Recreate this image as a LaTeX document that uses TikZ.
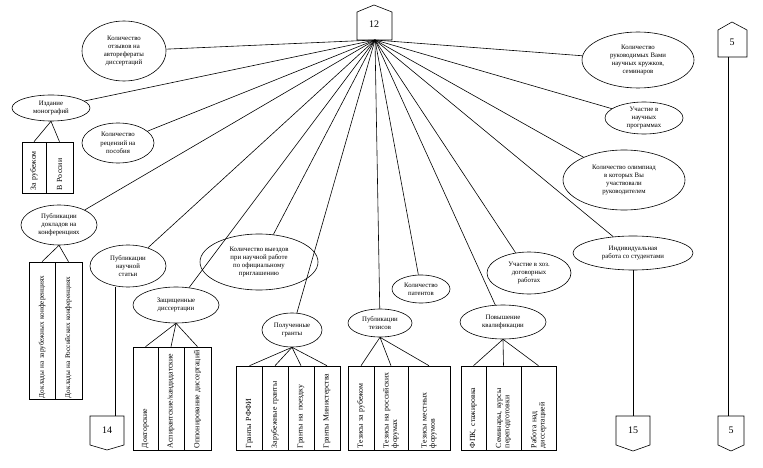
\documentclass[tikz,border=0pt]{standalone}
\usepackage{fontspec}
\setmainfont{Liberation Serif}
\usetikzlibrary{shapes.geometric}

\begin{document}
\begin{tikzpicture}%
  [x=1pt,y=-1pt,line width=0.6pt]
  \tikzstyle{ell node}=[ellipse,draw,inner sep=0,align=center,font=\fontsize{6.8}{8.2}\selectfont]
  \tikzstyle{cell node}=[rectangle,draw,rotate=90,inner sep=1,align=left,font=\fontsize{7.8}{8.4}\selectfont]
  \tikzstyle{num node}=[font=\fontsize{10}{12}\selectfont]
  \useasboundingbox (0,0) rectangle (763,468);
  % pentagons
  \draw (357,12) -- (374,5) -- (392,12) -- (392,40) -- (357,40) -- cycle;
  \node(p12)[num node] at (374,24){12};
  \coordinate (hub) at (375,40);
  \draw (718,30) -- (732,22) -- (747,30) -- (747,57) -- (718,57) -- cycle;
  \node(p5a)[num node] at (732,42){5};
  \draw (718,416) -- (744,416) -- (744,445) -- (731,451) -- (718,445) -- cycle;
  \node(p5b)[num node] at (731,430){5};
  \draw (616,416) -- (650,416) -- (650,445) -- (633,451) -- (616,445) -- cycle;
  \node(p15)[num node] at (633,430){15};
  \draw (90,416) -- (124,416) -- (124,445) -- (107,450) -- (90,445) -- cycle;
  \node(p14)[num node] at (107,430){14};
  % ellipses
  \node(otzyv)[ell node,minimum width=84,minimum height=60] at (124,51)
    {Количество\\отзывов на\\авторефераты\\диссертаций};
  \node(monogr)[ell node,minimum width=78,minimum height=26] at (51,108)
    {Издание\\монографий};
  \node(recenz)[ell node,minimum width=72,minimum height=40] at (118,143)
    {Количество\\рецензий на\\пособия};
  \node(doklad)[ell node,minimum width=76,minimum height=40] at (59,225)
    {Публикации\\докладов на\\конференциях};
  \node(statia)[ell node,minimum width=76,minimum height=42] at (128,266)
    {Публикации\\научной\\статьи};
  \node(disser)[ell node,minimum width=86,minimum height=36] at (176,305)
    {Защищенные\\диссертации};
  \node(vyezd)[ell node,minimum width=118,minimum height=56] at (259,262)
    {Количество выездов\\при научной работе\\по официальному\\приглашению};
  \node(grant)[ell node,minimum width=60,minimum height=34] at (292,330)
    {Полученные\\гранты};
  \node(patent)[ell node,minimum width=58,minimum height=28] at (421,289)
    {Количество\\патентов};
  \node(tezis)[ell node,minimum width=64,minimum height=28] at (380,323)
    {Публикации\\тезисов};
  \node(hozdog)[ell node,minimum width=84,minimum height=42] at (529,273)
    {Участие в хоз.\\договорных\\работах};
  \node(kvalif)[ell node,minimum width=86,minimum height=34] at (503,322)
    {Повышение\\квалификации};
  \node(student)[ell node,minimum width=120,minimum height=34] at (633,253)
    {Индивидуальная\\работа со студентами};
  \node(olimp)[ell node,minimum width=122,minimum height=60] at (624,180)
    {Количество олимпиад\\в которых Вы\\участвовали\\руководителем};
  \node(program)[ell node,minimum width=78,minimum height=32] at (644,118)
    {Участие в\\научных\\программах};
  \node(kruzhok)[ell node,minimum width=112,minimum height=56] at (638,60)
    {Количество\\руководимых Вами\\научных кружков,\\семинаров};
  % hub lines
  \foreach \e in {otzyv,monogr,recenz,doklad,statia,disser,vyezd,grant,
    patent,tezis,hozdog,kvalif,student,olimp,program,kruzhok}
    \draw (hub) -- (\e);
  % boxes
  \foreach \x/\w/\t [count=\i] in {34/24/{За рубежом},59.5/27/{В России}}{
    \node(mon\i)[cell node,minimum width=51,minimum height=\w,text width=45] at (\x,167.5){\t};
    \draw (monogr.south) -- (mon\i.east);}
  \foreach \x/\w/\t [count=\i] in {42/26/{Доклады на зарубежных конференциях},
    68.5/27/{Доклады на Российских конференциях}}{
    \node(dok\i)[cell node,font=\fontsize{7.2}{8}\selectfont,minimum width=137,minimum height=\w,
      text width=135] at (\x,330.5){\t};
    \draw (doklad.south) -- (dok\i.east);}
  \foreach \x/\w/\t [count=\i] in {145.5/25/{Докторские},171/26/{Аспирантские/кандидатские},
    197.5/27/{Оппонирование диссертаций}}{
    \node(dis\i)[cell node,minimum width=103,minimum height=\w,text width=99] at (\x,398.5){\t};
    \draw (disser.south) -- (dis\i.east);}
  \foreach \x/\t [count=\i] in {249.5/{Гранты РФФИ},275/{Зарубежные гранты},
    301/{Гранты на поездку},327/{Гранты Министерства}}{
    \node(gr\i)[cell node,minimum width=84,minimum height=26,text width=80] at (\x,408){\t};
    \draw (grant.south) -- (gr\i.east);}
  \foreach \x/\w/\t [count=\i] in {361/26/{Тезисы за рубежом},391/34/{Тезисы на российских\\форумах},
    429/42/{Тезисы местных\\форумов}}{
    \node(tz\i)[cell node,minimum width=84,minimum height=\w,text width=80] at (\x,408){\t};
    \draw (tezis.south) -- (tz\i.east);}
  \foreach \x/\w/\t [count=\i] in {473.5/25/{ФПК, стажировка},503.5/35/{Семинары, курсы\\переподготовки},
    538.5/35/{Работа над\\диссертацией}}{
    \node(kv\i)[cell node,minimum width=84,minimum height=\w,text width=80] at (\x,408){\t};
    \draw (kvalif.south) -- (kv\i.east);}
  % links to pages
  \draw (statia.south -| 115,0) -- (115,416);
  \draw (student.south) -- (633,416);
  \draw (728,57) -- (728,416);
\end{tikzpicture}
\end{document}
